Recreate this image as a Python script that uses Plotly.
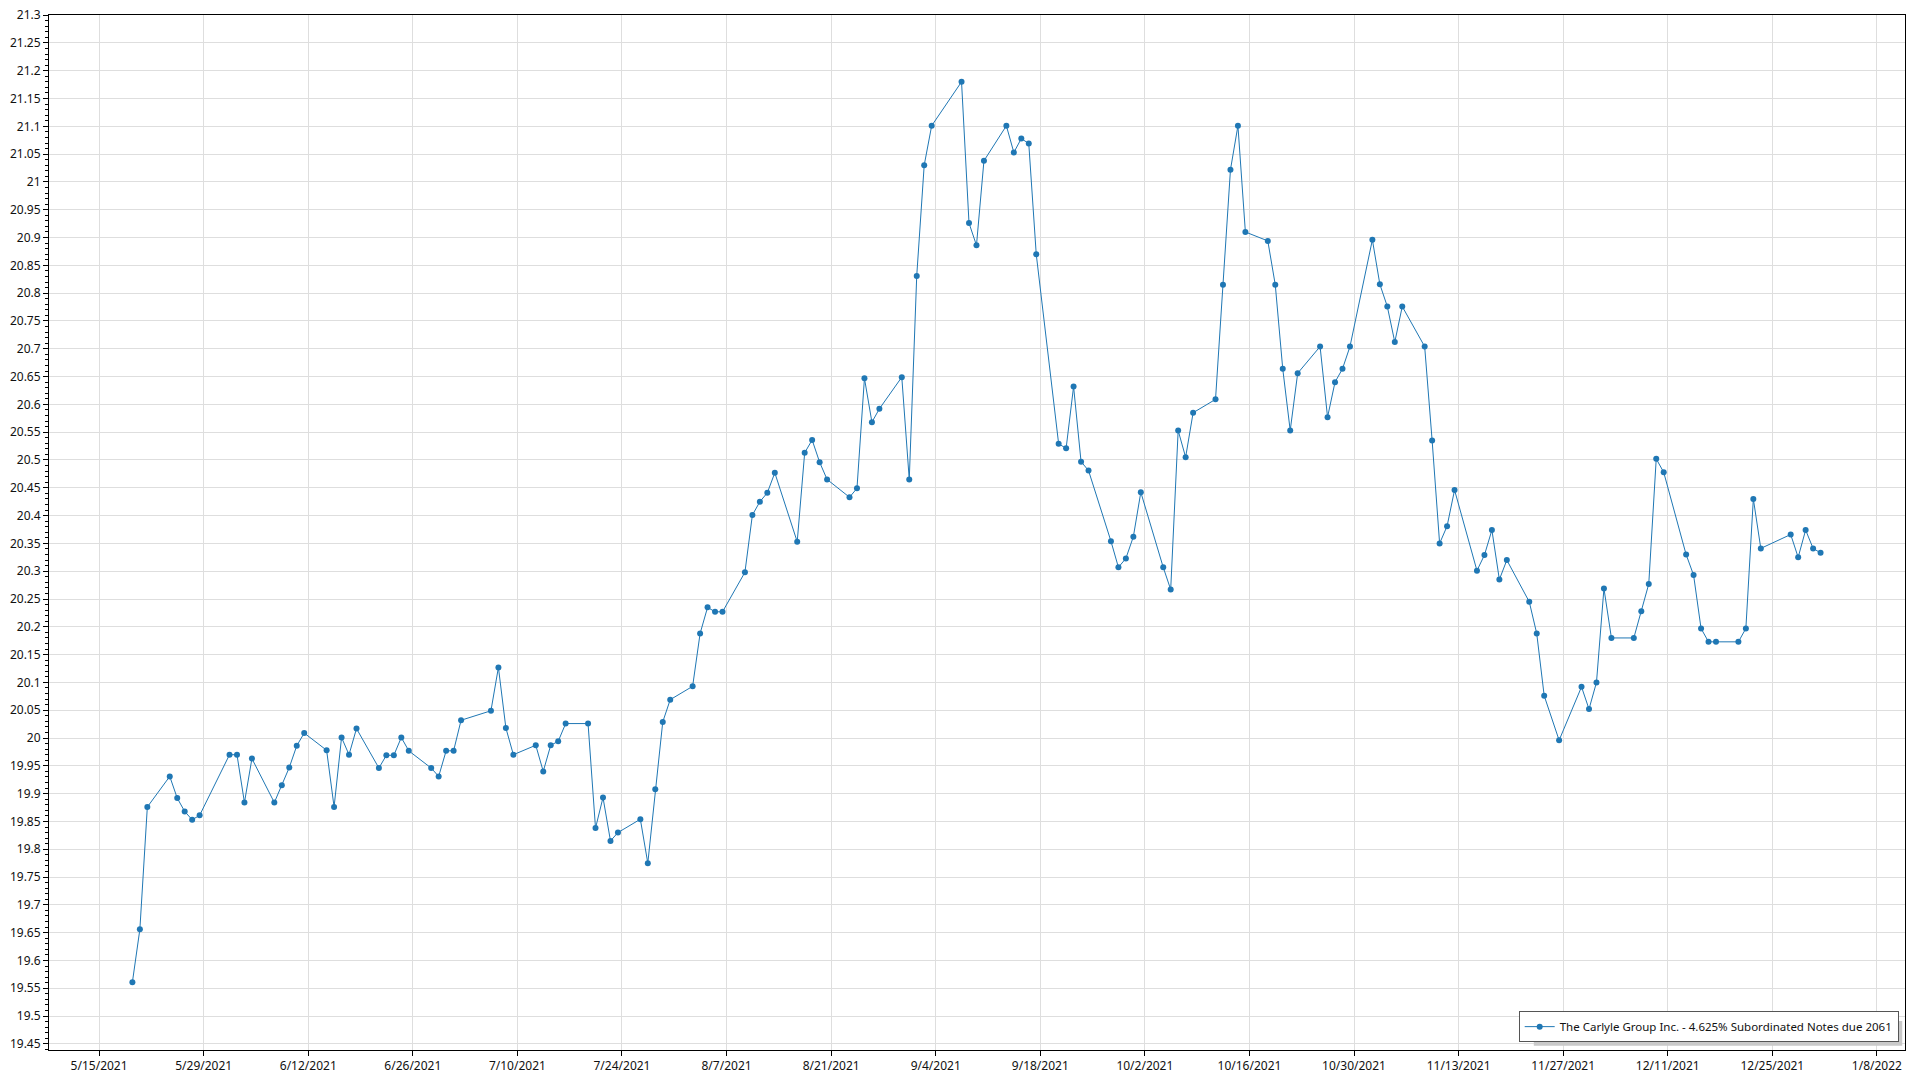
import pandas as pd
import plotly.graph_objects as go

series_name = "The Carlyle Group Inc. - 4.625% Subordinated Notes due 2061"

dates = [
    "2021-05-19", "2021-05-20", "2021-05-21", "2021-05-24", "2021-05-25", "2021-05-26", "2021-05-27", "2021-05-28",
    "2021-06-01", "2021-06-02", "2021-06-03", "2021-06-04", "2021-06-07", "2021-06-08", "2021-06-09", "2021-06-10",
    "2021-06-11", "2021-06-14", "2021-06-15", "2021-06-16", "2021-06-17", "2021-06-18", "2021-06-21", "2021-06-22",
    "2021-06-23", "2021-06-24", "2021-06-25", "2021-06-28", "2021-06-29", "2021-06-30", "2021-07-01", "2021-07-02",
    "2021-07-06", "2021-07-07", "2021-07-08", "2021-07-09", "2021-07-12", "2021-07-13", "2021-07-14", "2021-07-15",
    "2021-07-16", "2021-07-19", "2021-07-20", "2021-07-21", "2021-07-22", "2021-07-23", "2021-07-26", "2021-07-27",
    "2021-07-28", "2021-07-29", "2021-07-30", "2021-08-02", "2021-08-03", "2021-08-04", "2021-08-05", "2021-08-06",
    "2021-08-09", "2021-08-10", "2021-08-11", "2021-08-12", "2021-08-13", "2021-08-16", "2021-08-17", "2021-08-18",
    "2021-08-19", "2021-08-20", "2021-08-23", "2021-08-24", "2021-08-25", "2021-08-26", "2021-08-27", "2021-08-30",
    "2021-08-31", "2021-09-01", "2021-09-02", "2021-09-03", "2021-09-07", "2021-09-08", "2021-09-09", "2021-09-10",
    "2021-09-13", "2021-09-14", "2021-09-15", "2021-09-16", "2021-09-17", "2021-09-20", "2021-09-21", "2021-09-22",
    "2021-09-23", "2021-09-24", "2021-09-27", "2021-09-28", "2021-09-29", "2021-09-30", "2021-10-01", "2021-10-04",
    "2021-10-05", "2021-10-06", "2021-10-07", "2021-10-08", "2021-10-11", "2021-10-12", "2021-10-13", "2021-10-14",
    "2021-10-15", "2021-10-18", "2021-10-19", "2021-10-20", "2021-10-21", "2021-10-22", "2021-10-25", "2021-10-26",
    "2021-10-27", "2021-10-28", "2021-10-29", "2021-11-01", "2021-11-02", "2021-11-03", "2021-11-04", "2021-11-05",
    "2021-11-08", "2021-11-09", "2021-11-10", "2021-11-11", "2021-11-12", "2021-11-15", "2021-11-16", "2021-11-17",
    "2021-11-18", "2021-11-19", "2021-11-22", "2021-11-23", "2021-11-24", "2021-11-26", "2021-11-29", "2021-11-30",
    "2021-12-01", "2021-12-02", "2021-12-03", "2021-12-06", "2021-12-07", "2021-12-08", "2021-12-09", "2021-12-10",
    "2021-12-13", "2021-12-14", "2021-12-15", "2021-12-16", "2021-12-17", "2021-12-20", "2021-12-21", "2021-12-22",
    "2021-12-23", "2021-12-27", "2021-12-28", "2021-12-29", "2021-12-30", "2021-12-31",
]

prices = [
    19.561, 19.656, 19.876, 19.931, 19.892, 19.868, 19.853, 19.861,
    19.970, 19.970, 19.884, 19.963, 19.884, 19.915, 19.947, 19.986,
    20.009, 19.978, 19.876, 20.001, 19.970, 20.017, 19.946, 19.969,
    19.969, 20.001, 19.977, 19.946, 19.931, 19.977, 19.977, 20.032,
    20.049, 20.127, 20.018, 19.970, 19.987, 19.940, 19.987, 19.994,
    20.026, 20.026, 19.838, 19.893, 19.815, 19.830, 19.854, 19.775,
    19.908, 20.029, 20.069, 20.093, 20.188, 20.235, 20.227, 20.227,
    20.298, 20.401, 20.425, 20.441, 20.477, 20.353, 20.513, 20.536,
    20.496, 20.465, 20.433, 20.449, 20.647, 20.568, 20.592, 20.649,
    20.465, 20.831, 21.030, 21.101, 21.180, 20.926, 20.886, 21.038,
    21.101, 21.053, 21.078, 21.069, 20.870, 20.529, 20.521, 20.632,
    20.497, 20.481, 20.354, 20.307, 20.323, 20.362, 20.442, 20.307,
    20.267, 20.553, 20.505, 20.585, 20.609, 20.815, 21.022, 21.101,
    20.910, 20.894, 20.815, 20.664, 20.553, 20.656, 20.704, 20.577,
    20.640, 20.664, 20.704, 20.896, 20.816, 20.776, 20.712, 20.776,
    20.704, 20.535, 20.350, 20.381, 20.446, 20.301, 20.329, 20.374,
    20.285, 20.320, 20.245, 20.188, 20.076, 19.996, 20.092, 20.052,
    20.100, 20.269, 20.180, 20.180, 20.228, 20.277, 20.502, 20.478,
    20.330, 20.293, 20.197, 20.173, 20.173, 20.173, 20.197, 20.430,
    20.341, 20.366, 20.325, 20.374, 20.341, 20.333,
]

# points sit part-way through each day (intraday timestamp offset seen in the reference)
x = pd.to_datetime(dates) + pd.Timedelta(hours=11)

blue = "#1f77b4"
fig = go.Figure(
    go.Scatter(
        x=x, y=prices, mode="lines+markers", name=series_name,
        line=dict(color=blue, width=1),
        marker=dict(size=6, color=blue),
        showlegend=True,
    )
)

font_family = "Noto Sans, Open Sans, sans-serif"

fig.update_layout(
    width=1920, height=1080,
    margin=dict(l=49, r=15, t=15, b=30, autoexpand=False),
    paper_bgcolor="white", plot_bgcolor="white",
    font=dict(family=font_family, size=12, color="#111111"),
    showlegend=True,
    legend=dict(
        x=0.9966, y=0.0076, xanchor="right", yanchor="bottom",
        bgcolor="white", bordercolor="#555555", borderwidth=1,
        font=dict(family=font_family, size=11.5, color="#111111"),
    ),
    shapes=[
        # soft drop shadow behind the legend box
        dict(type="rect", xref="paper", yref="paper",
             x0=0.80, x1=0.9985, y0=0.0040, y1=0.028,
             fillcolor="#c9c9c9", line=dict(width=0), layer="above"),
    ],
)
fig.update_xaxes(
    type="date", automargin=False,
    range=["2021-05-08 07:02", "2022-01-11 18:17"],
    tick0="2021-05-15", dtick=14 * 86400000, tickformat="%-m/%-d/%Y",
    showgrid=True, gridcolor="#dedede", gridwidth=1,
    ticks="outside", ticklen=5, tickcolor="#000000",
    showline=True, linecolor="#000000", linewidth=1, mirror=True,
    zeroline=False,
)
fig.update_yaxes(
    automargin=False,
    range=[19.439, 21.3002],
    tick0=19.45, dtick=0.05,
    showgrid=True, gridcolor="#dedede", gridwidth=1,
    ticks="outside", ticklen=5, tickcolor="#000000",
    minor=dict(dtick=0.01, ticks="outside", ticklen=3, tickcolor="#000000", showgrid=False),
    showline=True, linecolor="#000000", linewidth=1, mirror=True,
    zeroline=False,
)

# drop the default 8px page margin so the 1920x1080 figure fills the window exactly
fig.write_html(
    "out.html",
    config={"displayModeBar": False},
    post_script="document.body.style.margin='0px';",
)
